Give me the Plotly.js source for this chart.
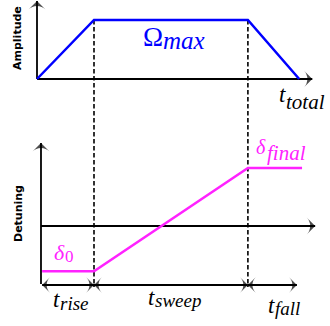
<!DOCTYPE html>
<html>
<head>
<meta charset="utf-8">
<script src="https://cdn.plot.ly/plotly-3.0.1.min.js"></script>
<style>html,body{margin:0;padding:0;background:#fff;}#chart{width:330px;height:326px;}</style>
</head>
<body>
<div id="chart"></div>
<script>
// ---- data ----
var phaseTimes = [0, 1, 3.7, 4.6];          // start, end of rise, end of sweep, end of fall
var amplitude = [0, 1, 1, 0];                // Omega(t), normalised to Omega_max
var detuneTimes = [0.09, 1, 3.7, 4.65];
var detuning = [-0.78, -0.78, 1, 1];         // delta_0 ... delta_final
var phaseNames = ['rise', 'sweep', 'fall'];
var axisNames = ['Amplitude', 'Detuning'];
var ampSymbol = ['Ω', 'max'];
var timeSymbol = ['t', 'total'];
var detSymbols = [['δ', '0'], ['δ', 'final']];

var W = 330, H = 326;
function px(x){return x / W;}
function py(y){return 1 - y / H;}
var serif = '"Liberation Serif", serif';
var BLUE = '#0000ff', MAG = '#ff22ff';

function arrowTrace(xs, ys, yaxis, angles, sizes) {
  return {x: xs, y: ys, xaxis: 'x', yaxis: yaxis, mode: 'lines+markers', hoverinfo: 'skip',
    line: {color: '#000', width: 1.8},
    marker: {symbol: 'arrow-wide', size: sizes, angle: angles, color: '#000', line: {width: 0}}};
}

var ySweepArrow = -1.017;
var traces = [
  arrowTrace([0, 0], [0, 1.32], 'y', [0, 0], [0, 12]),
  arrowTrace([0, 4.83], [0, 0], 'y', [90, 90], [0, 12]),
  arrowTrace([0.07, 0.07], [-1.0, 1.43], 'y2', [0, 0], [0, 12]),
  arrowTrace([0.07, 4.88], [0, 0], 'y2', [90, 90], [0, 12]),
  arrowTrace([detuneTimes[0], phaseTimes[1]], [ySweepArrow, ySweepArrow], 'y2', [-90, 90], [11, 11]),
  arrowTrace([phaseTimes[1], phaseTimes[2]], [ySweepArrow, ySweepArrow], 'y2', [-90, 90], [11, 11]),
  arrowTrace([phaseTimes[2], 4.56], [ySweepArrow, ySweepArrow], 'y2', [-90, 90], [11, 11]),
  {x: phaseTimes, y: amplitude, xaxis: 'x', yaxis: 'y', mode: 'lines',
   line: {color: BLUE, width: 2.5}, hoverinfo: 'skip'},
  {x: detuneTimes, y: detuning, xaxis: 'x', yaxis: 'y2', mode: 'lines',
   line: {color: MAG, width: 2.5}, hoverinfo: 'skip'}
];

// label helper: baseline-based placement
function lab(text, xPix, baseline, size, color, anchor, italic) {
  return {x: px(xPix), y: py(baseline - 0.3375 * size), xref: 'paper', yref: 'paper',
    xanchor: anchor, yanchor: 'middle', showarrow: false,
    text: italic ? '<i>' + text + '</i>' : text,
    font: {family: serif, size: size, color: color}};
}

var annotations = [
  {x: px(17), y: py(38), xref: 'paper', yref: 'paper', xanchor: 'center', yanchor: 'middle',
   text: '<b>' + axisNames[0] + '</b>', textangle: -90, showarrow: false,
   font: {family: 'DejaVu Sans', size: 11, color: '#000'}},
  {x: px(18), y: py(214), xref: 'paper', yref: 'paper', xanchor: 'center', yanchor: 'middle',
   text: '<b>' + axisNames[1] + '</b>', textangle: -90, showarrow: false,
   font: {family: 'DejaVu Sans', size: 11, color: '#000'}},
  lab(ampSymbol[0], 165, 46, 27, BLUE, 'right', false),
  lab(ampSymbol[1], 161, 49, 25, BLUE, 'left', true),
  lab(timeSymbol[0], 288, 102, 23, '#000', 'right', true),
  lab(timeSymbol[1], 284, 109, 21, '#000', 'left', true),
  lab(detSymbols[1][0], 268, 154, 20, MAG, 'right', true),
  lab(detSymbols[1][1], 265, 160, 21, MAG, 'left', true),
  lab(detSymbols[0][0], 67, 260, 22, MAG, 'right', true),
  lab(detSymbols[0][1], 63, 262, 17, MAG, 'left', false),
  lab('t', 62, 307, 23, '#000', 'right', true),
  lab(phaseNames[0], 58, 310, 19, '#000', 'left', true),
  lab('t', 157, 305, 23, '#000', 'right', true),
  lab(phaseNames[1], 153, 307, 19, '#000', 'left', true),
  lab('t', 277, 313, 23, '#000', 'right', true),
  lab(phaseNames[2], 273, 315, 19, '#000', 'left', true)
];

var shapes = [phaseTimes[1], phaseTimes[2]].map(function (t) {
  return {type: 'line', xref: 'x', yref: 'paper', x0: t, x1: t, y0: py(20), y1: py(287),
          line: {color: '#000', width: 1.6, dash: '4.5px,2.5px'}, layer: 'below'};
});

var layout = {
  width: W, height: H,
  margin: {l: 0, r: 0, t: 0, b: 0},
  paper_bgcolor: '#fff', plot_bgcolor: 'rgba(0,0,0,0)',
  showlegend: false,
  xaxis: {range: [-37 / 57, (W - 37) / 57], visible: false, fixedrange: true},
  yaxis: {range: [(79 - H) / 59, 79 / 59], visible: false, fixedrange: true},
  yaxis2: {range: [(226 - H) / 58, 226 / 58], visible: false, overlaying: 'y', fixedrange: true},
  shapes: shapes,
  annotations: annotations
};

Plotly.newPlot('chart', traces, layout, {staticPlot: true, displayModeBar: false});
</script>
</body>
</html>
